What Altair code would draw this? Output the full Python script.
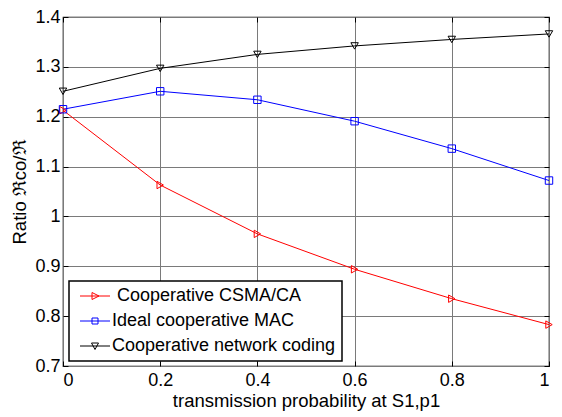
import altair as alt
import pandas as pd

x_vals = [0.0, 0.2, 0.4, 0.6, 0.8, 1.0]
y_ticks = [0.7, 0.8, 0.9, 1.0, 1.1, 1.2, 1.3, 1.4]
csma = [1.213, 1.063, 0.965, 0.894, 0.835, 0.783]
ideal = [1.215, 1.251, 1.234, 1.191, 1.136, 1.072]
netcod = [1.251, 1.297, 1.325, 1.342, 1.355, 1.366]

names = ["\u200b\u00a0Cooperative CSMA/CA", "Ideal cooperative MAC", "Cooperative network coding"]
colors = ["#ff0000", "#0000ff", "#000000"]
plot_shapes = ["triangle-right", "square", "triangle-down"]
# legend symbols: line segment plus marker
legend_shapes = [
    "M-3,0L3,0M-0.6,-0.7L0.8,0L-0.6,0.7Z",
    "M-3,0L3,0M-0.6,-0.6L0.6,-0.6L0.6,0.6L-0.6,0.6Z",
    "M-3,0L3,0M-0.7,-0.6L0.7,-0.6L0,0.7Z",
]

rows = []
for name, ys in zip(names, [csma, ideal, netcod]):
    for xv, yv in zip(x_vals, ys):
        rows.append({"x": xv, "y": yv, "series": name})
df = pd.DataFrame(rows)

FONT = "Liberation Sans"
xscale = alt.Scale(domain=[0, 1], nice=False)
yscale = alt.Scale(domain=[0.7, 1.4], nice=False, zero=False)

# main axes (bottom / left) with inward ticks
xenc = alt.X("x:Q", scale=xscale,
             axis=alt.Axis(values=x_vals, format="~g", title="transmission probability at S1,p1",
                           titleFontSize=18.5, titlePadding=2, labelPadding=5, offset=-5,
                           ticks=True, tickSize=5, domain=False, grid=True))
yenc = alt.Y("y:Q", scale=yscale,
             axis=alt.Axis(values=y_ticks, format="~g",
                           title="Ratio \u211cco/\u211c", titleFontSize=18.5, titlePadding=5,
                           labelPadding=3, offset=-5, ticks=True, tickSize=5, domain=False,
                           grid=True))
color = alt.Color("series:N", scale=alt.Scale(domain=names, range=colors), legend=None)

lines = alt.Chart(df).mark_line(strokeWidth=1).encode(x=xenc, y=yenc, color=color, detail="series:N")

# secondary axes (top / right): inward ticks only
pts = alt.Chart(df).mark_point(filled=False, size=55, strokeWidth=1, opacity=1).encode(
    x=alt.X("x:Q", scale=xscale,
            axis=alt.Axis(orient="top", values=x_vals, labels=False, title=None, offset=-5,
                          ticks=True, tickSize=5, domain=False, grid=False)),
    y=alt.Y("y:Q", scale=yscale,
            axis=alt.Axis(orient="right", values=y_ticks, labels=False, title=None, offset=-5,
                          ticks=True, tickSize=5, domain=False, grid=False)),
    color=color,
    shape=alt.Shape("series:N", scale=alt.Scale(domain=names, range=plot_shapes), legend=None),
)

legend_spec = dict(title=None, orient="none", legendX=6, legendY=264,
                   padding=6, strokeColor="black", fillColor="white",
                   symbolSize=100, symbolStrokeWidth=1, symbolOpacity=1,
                   symbolFillColor="transparent", symbolOffset=11,
                   symbolStrokeColor=alt.ExprRef(expr="scale('color', datum.value)"),
                   labelOffset=8, labelFontSize=18, labelFont=FONT,
                   labelColor="black", rowPadding=7, labelLimit=400)

leg = alt.Chart(df).mark_point(filled=False, size=100, strokeWidth=1, opacity=0).encode(
    x=alt.X("x:Q", scale=xscale, axis=None),
    y=alt.Y("y:Q", scale=yscale, axis=None),
    shape=alt.Shape("series:N", scale=alt.Scale(domain=names, range=legend_shapes),
                    sort=names, legend=alt.Legend(**legend_spec)),
)

chart = alt.layer(lines, pts, leg).resolve_scale(shape="independent").resolve_axis(
    x="independent", y="independent"
).properties(
    width=486, height=349,
    padding={"left": 55, "top": 9, "right": 5, "bottom": 45},
    autosize=alt.AutoSizeParams(type="none"),
).configure_view(stroke="black", strokeWidth=1.2).configure_axis(
    labelFont=FONT, titleFont=FONT, labelFontSize=18, labelColor="black", titleColor="black",
    titleFontWeight="normal", tickColor="black", tickWidth=1,
    gridColor="#7a7a7a", gridWidth=1, gridOpacity=1,
).configure_legend(strokeWidth=1.5)

chart.save("out.html", embed_options={"renderer": "svg", "actions": False})
